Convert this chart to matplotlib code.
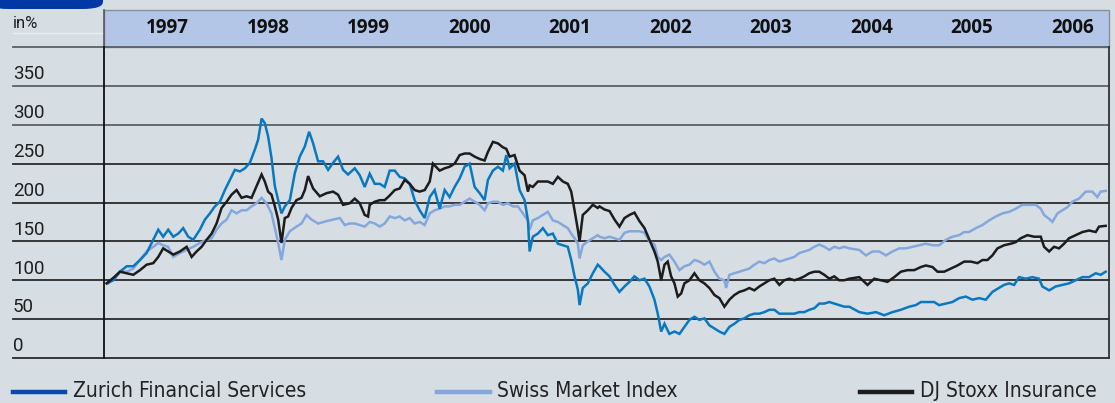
import matplotlib
matplotlib.use("Agg")
import matplotlib.pyplot as plt
from matplotlib.patches import FancyBboxPatch, Rectangle
from matplotlib.lines import Line2D
import matplotlib.transforms as mtransforms

# ---------------- data (index, start = 100) ----------------
zurich_dates = [1997.027, 1997.092, 1997.159, 1997.226, 1997.291, 1997.358, 1997.424, 1997.490, 1997.540, 1997.589,
                1997.639, 1997.689, 1997.739, 1997.788, 1997.838, 1997.888, 1997.954, 1998.004, 1998.054, 1998.103,
                1998.153, 1998.203, 1998.252, 1998.302, 1998.352, 1998.402, 1998.451, 1998.501, 1998.534, 1998.568,
                1998.600, 1998.633, 1998.667, 1998.700, 1998.733, 1998.766, 1998.799, 1998.849, 1998.899, 1998.948,
                1998.998, 1999.041, 1999.081, 1999.130, 1999.180, 1999.230, 1999.279, 1999.329, 1999.379, 1999.428,
                1999.495, 1999.545, 1999.594, 1999.644, 1999.694, 1999.744, 1999.793, 1999.843, 1999.893, 1999.942,
                1999.992, 2000.042, 2000.091, 2000.141, 2000.191, 2000.241, 2000.290, 2000.340, 2000.390, 2000.439,
                2000.489, 2000.539, 2000.588, 2000.638, 2000.688, 2000.738, 2000.787, 2000.820, 2000.870, 2000.920,
                2000.969, 2001.003, 2001.036, 2001.085, 2001.135, 2001.185, 2001.218, 2001.235, 2001.267, 2001.317,
                2001.367, 2001.416, 2001.466, 2001.516, 2001.566, 2001.615, 2001.649, 2001.682, 2001.715, 2001.732,
                2001.764, 2001.814, 2001.864, 2001.913, 2001.930, 2001.980, 2002.030, 2002.080, 2002.129, 2002.179,
                2002.229, 2002.278, 2002.328, 2002.378, 2002.427, 2002.477, 2002.510, 2002.544, 2002.577, 2002.626,
                2002.676, 2002.726, 2002.775, 2002.825, 2002.875, 2002.924, 2002.974, 2003.024, 2003.074, 2003.123,
                2003.173, 2003.223, 2003.272, 2003.322, 2003.372, 2003.421, 2003.471, 2003.521, 2003.571, 2003.620,
                2003.670, 2003.720, 2003.769, 2003.819, 2003.869, 2003.918, 2003.968, 2004.018, 2004.068, 2004.117,
                2004.167, 2004.217, 2004.266, 2004.316, 2004.366, 2004.416, 2004.515, 2004.597, 2004.681, 2004.763,
                2004.846, 2004.929, 2005.012, 2005.078, 2005.128, 2005.194, 2005.260, 2005.310, 2005.377, 2005.442,
                2005.509, 2005.575, 2005.641, 2005.708, 2005.774, 2005.840, 2005.890, 2005.956, 2006.006, 2006.056,
                2006.105, 2006.172, 2006.238, 2006.304, 2006.337, 2006.404, 2006.470, 2006.536, 2006.602, 2006.669,
                2006.735, 2006.801, 2006.868, 2006.917, 2006.967]
zurich_values = [96, 100, 111, 118, 118, 126, 135, 152, 165, 156,
                 165, 156, 160, 167, 156, 152, 165, 178, 186, 195,
                 201, 216, 229, 242, 240, 244, 251, 268, 281, 308,
                 302, 285, 257, 221, 203, 186, 195, 203, 238, 259,
                 272, 291, 276, 253, 253, 242, 251, 259, 242, 236,
                 244, 235, 220, 237, 224, 224, 220, 241, 241, 233,
                 231, 224, 203, 190, 180, 207, 216, 192, 216, 207,
                 220, 231, 246, 250, 220, 212, 203, 229, 241, 246,
                 241, 261, 244, 250, 216, 203, 177, 137, 156, 160,
                 167, 158, 160, 147, 145, 143, 126, 105, 88, 68,
                 90, 96, 109, 120, 118, 111, 105, 94, 85, 92,
                 98, 105, 100, 102, 92, 75, 57, 34, 44, 31,
                 34, 31, 40, 49, 53, 49, 51, 42, 38, 34,
                 31, 40, 44, 49, 51, 55, 57, 57, 59, 62,
                 62, 57, 57, 57, 57, 59, 59, 62, 64, 70,
                 70, 72, 70, 68, 66, 66, 59, 57, 59, 55,
                 59, 62, 66, 68, 72, 72, 72, 68, 70, 72,
                 77, 79, 75, 77, 75, 85, 89, 94, 96, 94,
                 104, 102, 104, 102, 92, 87, 92, 94, 96, 100,
                 104, 104, 109, 107, 111]

smi_dates = [1997.043, 1997.109, 1997.159, 1997.226, 1997.291, 1997.358, 1997.424, 1997.490, 1997.540, 1997.589,
             1997.639, 1997.689, 1997.755, 1997.822, 1997.888, 1997.954, 1998.021, 1998.071, 1998.120, 1998.170,
             1998.220, 1998.269, 1998.319, 1998.369, 1998.418, 1998.468, 1998.518, 1998.568, 1998.617, 1998.667,
             1998.700, 1998.733, 1998.766, 1998.799, 1998.849, 1998.915, 1998.965, 1999.015, 1999.065, 1999.130,
             1999.214, 1999.279, 1999.346, 1999.396, 1999.445,
             1999.495, 1999.545, 1999.594, 1999.644, 1999.694, 1999.744, 1999.793, 1999.843, 1999.893, 1999.942,
             1999.992, 2000.042, 2000.091, 2000.141, 2000.191, 2000.241, 2000.290, 2000.340, 2000.390, 2000.439,
             2000.489, 2000.539, 2000.588, 2000.638, 2000.688, 2000.738, 2000.787, 2000.820, 2000.870, 2000.920,
             2000.969, 2001.019, 2001.069, 2001.118, 2001.168, 2001.218, 2001.235, 2001.267, 2001.317, 2001.367,
             2001.416, 2001.466, 2001.516, 2001.566, 2001.615, 2001.649, 2001.682, 2001.715, 2001.732, 2001.764,
             2001.814, 2001.864, 2001.913,
             2001.930, 2001.980, 2002.030, 2002.080, 2002.129, 2002.179, 2002.229, 2002.278, 2002.328, 2002.378,
             2002.427, 2002.477, 2002.510, 2002.544, 2002.577, 2002.626, 2002.676, 2002.726, 2002.775, 2002.825,
             2002.875, 2002.924, 2002.974, 2003.024, 2003.074, 2003.123, 2003.173, 2003.190, 2003.223, 2003.272,
             2003.322, 2003.372, 2003.421, 2003.471, 2003.521, 2003.571, 2003.620, 2003.670, 2003.720, 2003.769,
             2003.819, 2003.869, 2003.918, 2003.968, 2004.018, 2004.068, 2004.117, 2004.167, 2004.217, 2004.266,
             2004.316, 2004.366, 2004.416,
             2004.515, 2004.581, 2004.647, 2004.714, 2004.780, 2004.846, 2004.912, 2004.979, 2005.045, 2005.111,
             2005.178, 2005.244, 2005.310, 2005.377, 2005.442, 2005.509, 2005.559, 2005.608, 2005.675, 2005.741,
             2005.807, 2005.874, 2005.940, 2006.006, 2006.072, 2006.138, 2006.205, 2006.271, 2006.321, 2006.354,
             2006.404, 2006.437, 2006.487, 2006.536, 2006.586, 2006.635, 2006.702, 2006.768, 2006.834, 2006.884,
             2006.917, 2006.967]
smi_values = [96, 103, 111, 111, 115, 126, 137, 143, 148, 145,
              143, 130, 135, 139, 143, 148, 152, 154, 165, 173,
              178, 190, 186, 190, 190, 195, 199, 206, 199, 186,
              167, 148, 126, 152, 163, 169, 173, 184, 178, 173,
              176, 178, 180, 171, 173,
              173, 171, 169, 175, 173, 169, 173, 182, 180, 182,
              177, 180, 173, 175, 171, 186, 190, 192, 195, 195,
              197, 197, 201, 205, 201, 197, 190, 199, 201, 201,
              197, 199, 195, 195, 186, 177, 165, 177, 180, 184,
              188, 177, 175, 171, 167, 160, 154, 147, 128, 145,
              150, 154, 158,
              156, 154, 156, 154, 152, 161, 163, 163, 163, 161,
              150, 146, 130, 126, 130, 133, 124, 113, 118, 120,
              126, 124, 120, 124, 111, 102, 100, 90, 107, 109,
              111, 113, 115, 120, 124, 122, 126, 128, 124, 126,
              128, 130, 135, 137, 139, 143, 146, 143, 139, 143,
              141, 143, 141,
              139, 132, 137, 137, 132, 137, 141, 141, 143, 145,
              147, 145, 145, 152, 156, 158, 162, 162, 167, 171,
              177, 182, 186, 188, 192, 197, 197, 197, 192, 184,
              179, 175, 186, 190, 194, 201, 205, 214, 214, 207,
              214, 215]

stoxx_dates = [1997.027, 1997.092, 1997.159, 1997.226, 1997.291, 1997.358, 1997.424, 1997.490, 1997.540, 1997.589,
               1997.639, 1997.689, 1997.755, 1997.822, 1997.872, 1997.921, 1997.971, 1998.021, 1998.071, 1998.120,
               1998.170, 1998.220, 1998.269, 1998.319, 1998.369, 1998.418, 1998.468, 1998.518, 1998.568, 1998.600,
               1998.633, 1998.667, 1998.700, 1998.733, 1998.766, 1998.799, 1998.832, 1998.866, 1998.915, 1998.965,
               1998.998, 1999.031, 1999.081, 1999.147, 1999.214, 1999.279, 1999.329, 1999.379, 1999.445,
               1999.495, 1999.545, 1999.594, 1999.627, 1999.644, 1999.694, 1999.744, 1999.793, 1999.843, 1999.893,
               1999.942, 1999.992, 2000.042, 2000.091, 2000.141, 2000.191, 2000.241, 2000.273, 2000.340, 2000.390,
               2000.439, 2000.489, 2000.539, 2000.588, 2000.638, 2000.688, 2000.738, 2000.787, 2000.820, 2000.870,
               2000.920, 2000.969, 2001.003, 2001.036, 2001.085, 2001.135, 2001.185, 2001.218, 2001.235, 2001.267,
               2001.317, 2001.367, 2001.416, 2001.466, 2001.516, 2001.566, 2001.615, 2001.649, 2001.682, 2001.715,
               2001.732, 2001.764, 2001.814, 2001.864, 2001.913,
               2001.930, 2001.980, 2002.030, 2002.080, 2002.129, 2002.179, 2002.229, 2002.278, 2002.328, 2002.378,
               2002.427, 2002.477, 2002.510, 2002.544, 2002.577, 2002.609, 2002.643, 2002.676, 2002.709, 2002.743,
               2002.775, 2002.825, 2002.875, 2002.924, 2002.974, 2003.024, 2003.074, 2003.123, 2003.173, 2003.223,
               2003.272, 2003.322, 2003.372, 2003.421, 2003.471, 2003.521, 2003.571, 2003.620, 2003.670, 2003.720,
               2003.769, 2003.819, 2003.869, 2003.918, 2003.968, 2004.018, 2004.068, 2004.117, 2004.167, 2004.217,
               2004.266, 2004.316, 2004.366, 2004.416,
               2004.515, 2004.597, 2004.664, 2004.731, 2004.796, 2004.863, 2004.929, 2004.995, 2005.062, 2005.128,
               2005.178, 2005.244, 2005.293, 2005.360, 2005.426, 2005.492, 2005.559, 2005.625, 2005.691, 2005.741,
               2005.790, 2005.840, 2005.890, 2005.956, 2006.023, 2006.072, 2006.122, 2006.188, 2006.254, 2006.321,
               2006.354, 2006.404, 2006.453, 2006.503, 2006.553, 2006.602, 2006.669, 2006.735, 2006.801, 2006.868,
               2006.901, 2006.967]
stoxx_values = [96, 103, 111, 109, 107, 113, 120, 122, 130, 141,
                137, 133, 137, 143, 130, 137, 143, 152, 160, 173,
                193, 201, 210, 216, 206, 208, 206, 221, 236, 227,
                214, 210, 195, 178, 148, 180, 182, 193, 203, 206,
                216, 234, 218, 208, 212, 214, 210, 197, 199,
                205, 199, 184, 182, 197, 201, 203, 203, 209, 216,
                218, 229, 224, 216, 214, 216, 227, 250, 241, 244,
                246, 250, 261, 263, 263, 259, 256, 254, 265, 278,
                276, 271, 269, 259, 261, 241, 235, 214, 222, 220,
                227, 227, 227, 224, 233, 227, 224, 214, 190, 165,
                150, 184, 190, 197, 193,
                195, 191, 189, 178, 169, 180, 184, 187, 176, 167,
                152, 137, 124, 100, 120, 124, 105, 96, 79, 83,
                96, 100, 109, 100, 96, 90, 81, 77, 66, 75,
                81, 85, 87, 90, 87, 92, 96, 100, 102, 94,
                100, 102, 100, 102, 105, 109, 111, 111, 107, 102,
                105, 100, 100, 102,
                104, 94, 102, 100, 98, 104, 111, 113, 113, 117,
                119, 117, 111, 111, 115, 119, 124, 124, 122, 126,
                126, 132, 141, 145, 147, 149, 154, 158, 156, 156,
                143, 137, 143, 141, 147, 154, 158, 162, 164, 162,
                169, 170]

years = [1997, 1998, 1999, 2000, 2001, 2002, 2003, 2004, 2005, 2006]
y_ticks = [0, 50, 100, 150, 200, 250, 300, 350, 400]
y_tick_labels = ["0", "50", "100", "150", "200", "250", "300", "350"]
series_names = ["Zurich Financial Services", "Swiss Market Index", "DJ Stoxx Insurance"]

# ---------------- styling ----------------
W, H = 1115, 403
BG = "#d6dee4"
HEADER = "#b4c6e7"
TAB = "#0039a6"
C_ZURICH = "#0a78be"
C_ZURICH_LEG = "#0b47ae"
C_SMI = "#84a8dc"
C_STOXX = "#1c1c1c"
GRID = "#2a2a2a"

def fx(px):
    return px / W

def fy(py):
    return 1 - py / H

fig = plt.figure(figsize=(W / 100, H / 100), dpi=100, facecolor=BG)

# blue tab at top-left
fig.patches.append(FancyBboxPatch((fx(-12), fy(9)), fx(115), 0.06,
                                  boxstyle="round,pad=0,rounding_size=0.018",
                                  transform=fig.transFigure, facecolor=TAB, edgecolor="none", zorder=-2))
# header band
fig.patches.append(Rectangle((fx(104), fy(47)), fx(1109) - fx(104), fy(10) - fy(47),
                             transform=fig.transFigure, facecolor=HEADER, edgecolor="#8a8f96",
                             linewidth=1.0, zorder=-2))
# faint line under "in%"
fig.lines.append(Line2D([fx(13), fx(103)], [fy(33), fy(33)], transform=fig.transFigure,
                        color="#e6ebef", linewidth=1.0, zorder=-1))

ax = fig.add_axes([fx(104), fy(358), fx(1109) - fx(104), fy(47) - fy(358)])
ax.set_facecolor("none")
ax.set_xlim(1997.0, 2007.0)
ax.set_ylim(0, 400)
for s in ["top", "bottom", "right"]:
    ax.spines[s].set_visible(False)
ax.spines["left"].set_color("#111111")
ax.spines["left"].set_linewidth(1.3)
ax.spines["left"].set_bounds(0, 400)
ax.set_xticks([])
ax.set_yticks([])

# right border line
ax.axvline(2007.0, color="#333333", linewidth=1.3, clip_on=False)
# left vertical border extends through header band
blend_x = mtransforms.blended_transform_factory(ax.transData, fig.transFigure)
ax.plot([1997.0, 1997.0], [fy(47), fy(10)], transform=blend_x, color="#555a60",
        linewidth=1.2, clip_on=False)

# horizontal grid lines extending under labels
blend_y = mtransforms.blended_transform_factory(fig.transFigure, ax.transData)
for v in y_ticks:
    ax.plot([fx(13), fx(1109)], [v, v], transform=blend_y, color=GRID if v < 300 else "#5e6164",
            linewidth=1.3, clip_on=False, zorder=1)

ytxt_fam = ["Roboto", "DejaVu Sans"]
for v, lab in zip(y_ticks, y_tick_labels):
    ax.text(fx(13), v + 3.5, lab, transform=blend_y, ha="left", va="bottom",
            fontsize=13.5, family=ytxt_fam, color="#1e1e1e")
fig.text(fx(13), fy(24), "in%", ha="left", va="center", fontsize=12,
         family=ytxt_fam, color="#1e1e1e")

# year labels in header
for yr in years:
    ax.text(yr + 0.635, fy(28), str(yr), transform=blend_x, ha="center", va="center",
            fontsize=13.5, fontweight="bold", family=["Open Sans", "DejaVu Sans"], color="#111111")

# data lines
ax.plot(smi_dates, smi_values, color=C_SMI, linewidth=1.8, zorder=3, solid_joinstyle="miter")
ax.plot(zurich_dates, zurich_values, color=C_ZURICH, linewidth=1.8, zorder=4, solid_joinstyle="miter")
ax.plot(stoxx_dates, stoxx_values, color=C_STOXX, linewidth=1.8, zorder=5, solid_joinstyle="miter")

# legend (manual)
leg_items = [(13, 65, 73, C_ZURICH_LEG), (437, 490, 497, C_SMI), (860, 912, 920, C_STOXX)]
for (x0, x1, xt, c), name in zip(leg_items, series_names):
    fig.lines.append(Line2D([fx(x0), fx(x1)], [fy(392), fy(392)], transform=fig.transFigure,
                            color=c, linewidth=3.2))
    fig.text(fx(xt), fy(391), name, ha="left", va="center", fontsize=15,
             family="DejaVu Sans", fontstretch="condensed", color="#222222")

fig.savefig("out.png", dpi=100, facecolor=BG)
